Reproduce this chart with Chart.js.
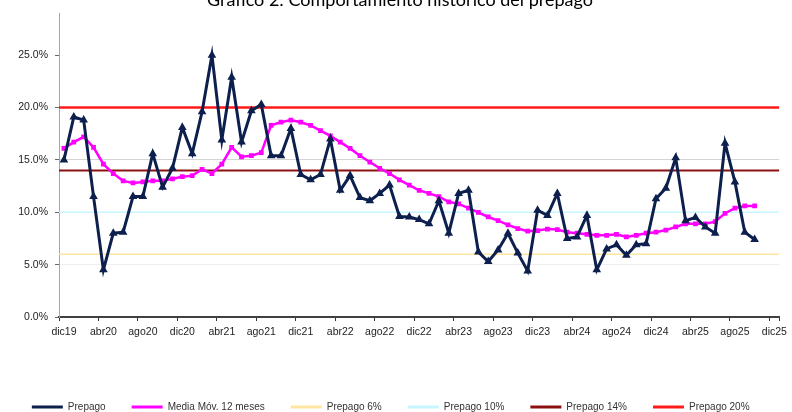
<!DOCTYPE html>
<html><head><meta charset="utf-8">
<script src="https://cdn.jsdelivr.net/npm/chart.js@4.4.1/dist/chart.umd.min.js"></script>
<style>
html,body{margin:0;padding:0;background:#fff;overflow:hidden;}
#wrap{position:relative;width:792px;height:412px;}
#title{position:absolute;left:0;width:800px;top:-10px;text-align:center;font-family:Lato,"Open Sans",sans-serif;font-size:18px;line-height:18px;color:#000;}
canvas{position:absolute;left:0;top:0;}
</style></head>
<body>
<div id="wrap">
<canvas id="c" width="792" height="412"></canvas>
<div id="title">Gráfico 2: Comportamiento histórico del prepago</div>
</div>
<script>
const months = ["dic19","ene20","feb20","mar20","abr20","may20","jun20","jul20","ago20","sep20","oct20","nov20",
"dic20","ene21","feb21","mar21","abr21","may21","jun21","jul21","ago21","sep21","oct21","nov21",
"dic21","ene22","feb22","mar22","abr22","may22","jun22","jul22","ago22","sep22","oct22","nov22",
"dic22","ene23","feb23","mar23","abr23","may23","jun23","jul23","ago23","sep23","oct23","nov23",
"dic23","ene24","feb24","mar24","abr24","may24","jun24","jul24","ago24","sep24","oct24","nov24",
"dic24","ene25","feb25","mar25","abr25","may25","jun25","jul25","ago25","sep25","oct25","nov25","dic25"];

const prepago = [15.0,19.1,18.8,11.5,4.5,8.0,8.1,11.5,11.5,15.6,
12.4,14.2,18.1,15.6,19.6,25.0,16.9,22.9,16.7,19.7,
20.3,15.4,15.4,18.0,13.6,13.1,13.6,17.0,12.1,13.5,
11.4,11.1,11.8,12.6,9.6,9.55,9.3,8.9,11.1,8.0,
11.8,12.1,6.2,5.3,6.4,8.0,6.1,4.4,10.2,9.7,
11.8,7.5,7.65,9.7,4.5,6.5,6.9,5.9,6.9,7.0,
11.3,12.3,15.2,9.2,9.5,8.6,8.0,16.6,12.9,8.1,
7.4];

const mediaMovil = [16.1,16.7,17.2,16.2,14.6,13.7,13.0,12.8,12.9,13.0,
13.0,13.2,13.4,13.5,14.1,13.7,14.6,16.2,15.3,15.4,
15.7,18.3,18.6,18.8,18.6,18.3,17.8,17.3,16.7,16.1,
15.4,14.8,14.2,13.7,13.1,12.6,12.1,11.8,11.5,11.0,
10.8,10.4,10.0,9.55,9.2,8.8,8.45,8.2,8.25,8.4,
8.35,8.1,8.0,7.9,7.8,7.8,7.9,7.65,7.8,8.0,
8.1,8.3,8.6,8.9,8.9,8.9,9.1,9.9,10.4,10.6,
10.6];

const refLevels = [6, 10, 14, 20];
const refNames = ["Prepago 6%", "Prepago 10%", "Prepago 14%", "Prepago 20%"];
const refColors = ["#ffe6a0", "#c8f6ff", "#8b1010", "#ff1a1a"];
const refWidths = [1.5, 1.5, 2, 2.5];
const yTicks = [0, 5, 10, 15, 20, 25];

const refSets = refLevels.map((v, i) => ({
  label: refNames[i],
  data: [{x: 0, y: v}, {x: 1, y: v}],
  xAxisID: 'x2',
  borderColor: refColors[i],
  backgroundColor: refColors[i],
  borderWidth: refWidths[i],
  pointRadius: 0,
  tension: 0
}));

const axisFont = {family: '"Liberation Sans", Arial, sans-serif', size: 10.5};

new Chart(document.getElementById('c'), {
  type: 'line',
  data: {
    labels: months,
    datasets: [
      {label: "Prepago", data: prepago, borderColor: "#0c1f4d", backgroundColor: "#0c1f4d",
       borderWidth: 3, pointStyle: 'triangle', pointRadius: 2, pointBackgroundColor: "#0c1f4d", pointBorderColor: "#0c1f4d", tension: 0},
      {label: "Media Móv. 12 meses", data: mediaMovil, borderColor: "#ff00ff", backgroundColor: "#ff00ff",
       borderWidth: 2.5, pointStyle: 'rect', pointRadius: 1.6, pointBackgroundColor: "#ff00ff", pointBorderColor: "#ff00ff", tension: 0},
      ...refSets
    ]
  },
  options: {
    responsive: false,
    devicePixelRatio: 1,
    animation: false,
    layout: {padding: {top: 12, right: 10.6, left: 0, bottom: -10}},
    plugins: {
      tooltip: {enabled: false},
      title: {display: false},
      legend: {
        position: 'bottom',
        labels: {
          boxWidth: 31, boxHeight: 3, padding: 26, color: '#333',
          font: {family: '"Liberation Sans", Arial, sans-serif', size: 10},
          generateLabels: (chart) => Chart.defaults.plugins.legend.labels.generateLabels(chart)
            .map(l => Object.assign(l, {lineWidth: 0, fillStyle: l.strokeStyle}))
        }
      }
    },
    scales: {
      x: {
        type: 'category',
        offset: true,
        afterFit: (s) => { s.height = 59; },
        grid: {
          offset: true, drawOnChartArea: false, tickLength: 4,
          color: (c) => (c.index === undefined || c.index % 4 === 0) ? '#333' : 'rgba(0,0,0,0)'
        },
        border: {color: '#404040', width: 2},
        ticks: {
          autoSkip: false, maxRotation: 0, minRotation: 0, padding: 5, color: '#222',
          font: axisFont,
          callback: (v, i) => (i % 4 === 0 ? months[i] : '')
        }
      },
      x2: {type: 'linear', display: false, min: 0, max: 1},
      y: {
        min: 0, max: 29,
        afterFit: (s) => { s.width = 59; },
        afterBuildTicks: (s) => { s.ticks = yTicks.map(v => ({value: v})); },
        grid: {
          drawTicks: true, tickLength: 4, tickColor: '#666',
          color: (c) => c.tick && c.tick.value === 15 ? '#d4d4d4' : (c.tick && c.tick.value === 5 ? '#efefef' : 'rgba(0,0,0,0)')
        },
        border: {color: '#a6a6a6', width: 1},
        ticks: {
          padding: 7, color: '#222',
          font: axisFont,
          callback: (v) => v.toFixed(1) + '%'
        }
      }
    }
  }
});
</script>
</body></html>
